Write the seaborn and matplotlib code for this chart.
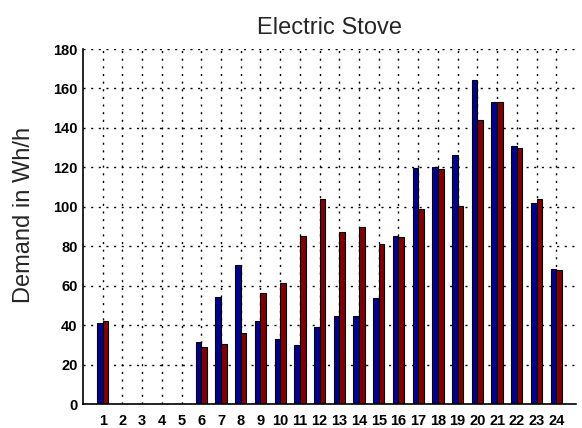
import matplotlib
matplotlib.use("Agg")
import matplotlib.pyplot as plt
import seaborn as sns
import pandas as pd

hours = [str(h) for h in range(1, 25)]
series_a = [41.2, 0, 0, 0, 0, 31.6, 54.4, 70.5, 41.9, 33.1, 29.7, 39.2,
            44.8, 44.8, 53.6, 85.4, 119.5, 120.2, 126.3, 164.3, 153.0, 130.8, 101.8, 68.5]
series_b = [42.1, 0, 0, 0, 0, 28.7, 30.4, 35.8, 56.1, 61.5, 85.4, 104.0,
            87.4, 89.9, 81.0, 84.5, 98.7, 119.2, 100.6, 144.0, 153.0, 130.0, 104.0, 67.9]
y_ticks = [0, 20, 40, 60, 80, 100, 120, 140, 160, 180]

df = pd.DataFrame({
    "hour": hours * 2,
    "demand": series_a + series_b,
    "series": ["Series 1"] * 24 + ["Series 2"] * 24,
})

sns.set_style("white")
plt.rcParams["font.family"] = ["Liberation Sans", "DejaVu Sans"]

fig = plt.figure(figsize=(5.82, 4.28), dpi=100)
ax = fig.add_axes([0.1426, 0.056, 0.847, 0.8295])

sns.barplot(data=df, x="hour", y="demand", hue="series", order=hours,
            palette=["#00008f", "#800000"], width=0.57, edgecolor="black",
            linewidth=0.8, saturation=1, legend=False, ax=ax)

ax.set_xlim(-1, 24)
ax.set_ylim(0, 180)
ax.set_yticks(y_ticks)
ax.set_xlabel("")
ax.set_ylabel("Demand in Wh/h", fontsize=17)
ax.yaxis.set_label_coords(-0.097, 0.532)
ax.set_title("Electric Stove", fontsize=17, pad=11)

ax.grid(True, color="black", linestyle=(0, (1.5, 4)), linewidth=1.0)
ax.set_axisbelow(True)
ax.tick_params(axis="both", direction="in", length=5, width=1.2,
               labelsize=10.5, colors="black")
ax.tick_params(axis="x", pad=7)
ax.tick_params(axis="y", pad=4)
for lbl in ax.get_xticklabels() + ax.get_yticklabels():
    lbl.set_fontweight("bold")
for s in ["top", "right"]:
    ax.spines[s].set_visible(False)
for s in ["left", "bottom"]:
    ax.spines[s].set_color("black")
    ax.spines[s].set_linewidth(1.2)

fig.savefig("out.png", dpi=100)
